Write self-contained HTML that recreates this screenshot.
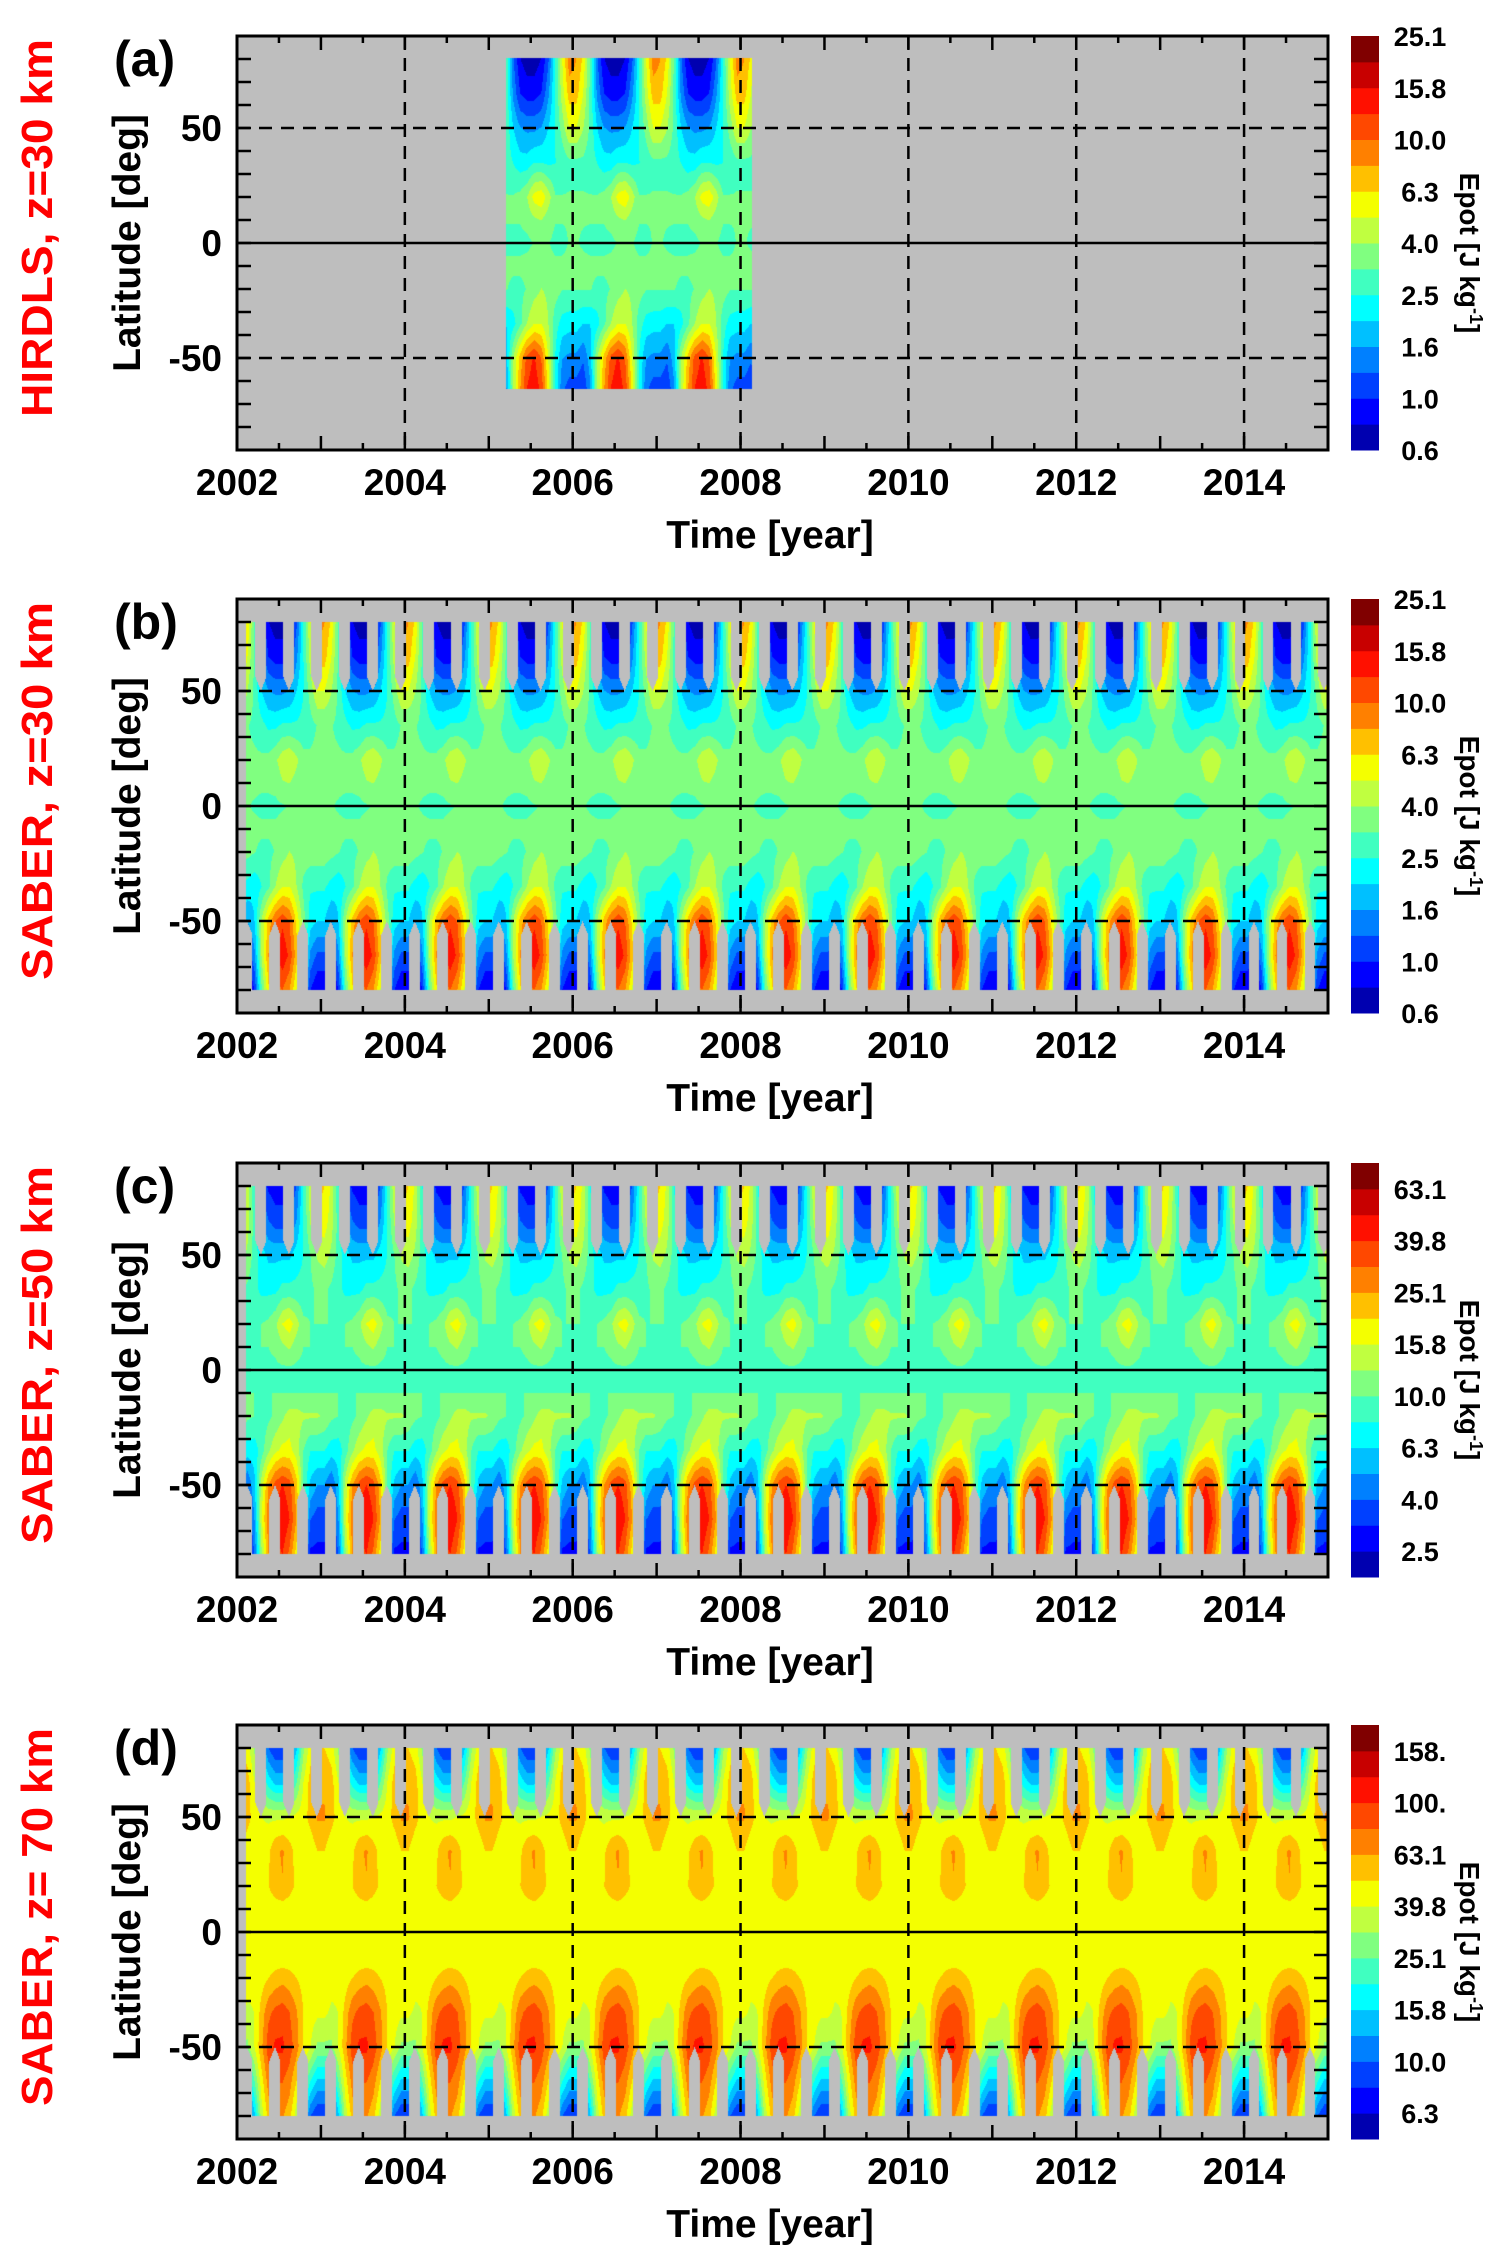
<!DOCTYPE html>
<html><head><meta charset="utf-8">
<style>
html,body{margin:0;padding:0;background:#fff;}
#wrap{position:relative;width:1500px;height:2267px;overflow:hidden;background:#fff;}
canvas{position:absolute;}
svg{position:absolute;left:0;top:0;}
text{font-family:"Liberation Sans",sans-serif;font-weight:bold;}
</style></head>
<body>
<div id="wrap">
<canvas id="cv0"></canvas>
<canvas id="cv1"></canvas>
<canvas id="cv2"></canvas>
<canvas id="cv3"></canvas>
<svg id="ov" width="1500" height="2267"></svg>
</div>
<script>
// ---- data ----
const months = [0,1,2,3,4,5,6,7,8,9,10,11];
const lats = [80,65,50,35,20,10,0,-10,-20,-35,-50,-65,-80];
const xTickYears = [2002,2004,2006,2008,2010,2012,2014];
const yTickLats = [50,0,-50];
const panelLetters = ["(a)","(b)","(c)","(d)"];
const panelTitles = ["HIRDLS, z=30 km","SABER, z=30 km","SABER, z=50 km","SABER, z= 70 km"];
const cbarLabelsA = ["0.6","1.0","1.6","2.5","4.0","6.3","10.0","15.8","25.1"];
const cbarLabelsC = ["2.5","4.0","6.3","10.0","15.8","25.1","39.8","63.1"];
const cbarLabelsD = ["6.3","10.0","15.8","25.1","39.8","63.1","100.","158."];
const logMins = [-0.2,-0.2,0.3,0.7];
const levelColors = ["#0000b0","#0000ff","#0040ff","#0080ff","#00c0ff","#00ffff","#40ffc0","#80ff80","#c0ff40","#f4ff00","#ffc000","#ff8000","#ff4800","#ff1000","#c80000","#800000"];
// HIRDLS coverage
const hirdlsStart = 2005.2, hirdlsEnd = 2008.14, hirdlsLatMax = 80.5, hirdlsLatMin = -63.5;
// SABER coverage and yaw cycle
const saberStart = 2002.107, saberEnd = 2015.0, saberLatMax = 80;
const yawPeriod = 1/3, yawGap = 0.13, northGapPhase = 2002.22, southGapPhase = 2002.387;

const valuesA = [
 [8,6,3,1.3,0.8,0.7,0.7,0.8,1.2,2.5,5,9],
 [7,5,3,1.5,1.0,0.9,0.9,1.0,1.5,2.5,4.5,7],
 [5,4,3,2,1.6,1.5,1.5,1.6,2,2.5,3.5,5],
 [3,3,2.8,2.5,2.2,2.2,2.5,2.5,2.4,2.5,2.7,3],
 [3.2,3.2,3.2,3.2,3.4,4,5.5,6,4.5,3.2,3.2,3.2],
 [3.2,3.2,3.2,3.2,3.2,3.4,3.8,4,3.5,3.2,3.2,3.2],
 [3.2,3.1,3,3,3,3,3.2,3.2,3.2,3,3,3.2],
 [3.3,3.3,3.3,3.3,3.3,3.4,3.6,3.6,3.4,3.3,3.3,3.3],
 [3.2,3.2,3.2,3,3,3.2,3.6,4,3.8,3.5,3.2,3.2],
 [2.2,2,2,2.3,3,4,5,5,4,2.8,2.3,2.2],
 [1.5,1.3,1.8,4,7,11,13,10,5,2.5,1.6,1.5],
 [1.1,1,1.5,4,8,13,15,12,6,2.5,1.3,1.1],
 [1,1,1.5,4,8,13,15,12,6,2.5,1.3,1]
];
const valuesB = [
 [8,6,3,1.2,0.8,0.7,0.7,0.8,1.2,2.5,5,9],
 [7,5,3,1.5,1.0,0.9,0.9,1.0,1.5,2.5,4.5,7],
 [5,4,3,2,1.6,1.5,1.5,1.6,2,2.5,3.5,5],
 [3.2,3.2,3,2.7,2.4,2.4,2.6,2.6,2.6,2.7,2.9,3.2],
 [3.4,3.3,3.3,3.3,3.4,3.8,4.6,5,4.2,3.4,3.3,3.4],
 [3.4,3.3,3.3,3.3,3.3,3.4,3.9,4,3.6,3.3,3.3,3.4],
 [3.3,3.2,3.1,3,3,3,3.1,3.2,3.2,3.2,3.2,3.3],
 [3.4,3.3,3.3,3.3,3.3,3.3,3.4,3.4,3.4,3.4,3.4,3.4],
 [3.6,3.4,3.2,3,3,3.2,3.6,4,3.8,3.6,3.6,3.6],
 [2.6,2.3,2.1,2.5,3,4,5,5,4,3,2.6,2.6],
 [2,1.6,2,4,7,10,12,10,6,3.5,2.2,2],
 [1.2,1,1.5,4,8,12,15,12,7,3,1.5,1.2],
 [0.8,0.7,1,3,6,9,10,8,5,2,1,0.8]
];
const valuesC = [
 [20,15,8,4,3,2.8,2.8,3,4,8,15,22],
 [18,14,9,5,4,3.5,3.5,4,5,8,13,18],
 [14,12,9,7,6,6,6,6,7,8,10,13],
 [10.5,9.5,8.5,7.5,7.5,7.5,8.5,8.5,8.5,8.5,9.5,10.5],
 [10,10,10,10,10.5,12,16,18,14,10.5,10,10],
 [10,10,10,10,10,10.5,12,13,11,10,10,10],
 [9.5,9.5,9.5,9.5,9.5,9.5,9.5,9.5,9.5,9.5,9.5,9.5],
 [10,10,10,10,10,10,10,10,10,10,10,10],
 [12,10.5,10,9,9.5,10.5,12,14,14,13,13,13],
 [8,7,7,9,12,15,17,17,14,10,8,8],
 [5,4,6,14,25,35,40,35,22,10,6,5],
 [3.5,3,5,15,30,45,50,40,25,9,4,3.5],
 [3,2.8,4,12,25,35,40,30,18,6,3,3]
];
const valuesD = [
 [50,45,30,15,10,8,8,10,15,30,45,55],
 [60,55,40,25,18,15,15,18,25,40,55,60],
 [65,55,45,40,38,38,38,40,42,45,55,65],
 [50,42,42,44,48,60,65,55,46,42,42,50],
 [46,42,42,44,50,58,62,55,48,44,42,46],
 [42,41,41,41,42,44,45,44,42,41,41,42],
 [41,40,40,40,41,41,41,41,41,40,40,41],
 [42,41,41,41,41,42,42,42,41,41,41,42],
 [50,44,42,45,50,55,58,55,50,46,50,50],
 [42,38,40,55,75,85,90,80,65,50,45,42],
 [30,30,40,60,90,105,105,90,70,50,40,30],
 [15,15,25,45,70,80,80,70,50,30,20,15],
 [8,8,15,35,55,65,65,55,35,18,10,8]
];
const panelValues = [valuesA, valuesB, valuesC, valuesD];

// ---- layout ----
const X0 = 237, X1 = 1328, T0 = 2002, T1 = 2015;
const panelTops = [36, 599, 1163, 1725];
const PH = 414;
const CBX = 1351, CBW = 28;
const xScale = t => X0 + (t - T0) / (T1 - T0) * (X1 - X0);
const yScale = (lat, top) => top + (90 - lat) / 180 * PH;

function sample(vals, t, lat) {
  let f = (t - Math.floor(t)) * 12 - 0.5;
  let m0 = Math.floor(f), w = f - m0;
  const ma = ((m0 % 12) + 12) % 12, mb = (ma + 1) % 12;
  let li = 0;
  while (li < lats.length - 2 && lat < lats[li + 1]) li++;
  let lw = (lats[li] - lat) / (lats[li] - lats[li + 1]);
  lw = Math.max(0, Math.min(1, lw));
  const g = (r, m) => Math.log10(vals[r][m]);
  const a = g(li, ma) * (1 - w) + g(li, mb) * w;
  const b = g(li + 1, ma) * (1 - w) + g(li + 1, mb) * w;
  return a * (1 - lw) + b * lw;
}
function inYawGap(t, lat, phase) {
  if (lat <= 50) return false;
  const d = (((t - phase) % yawPeriod) + yawPeriod) % yawPeriod;
  const hw = yawGap * Math.min(1, (lat - 50) / 6);
  return Math.abs(d - yawGap / 2) < hw / 2;
}
function covered(p, t, lat) {
  if (p === 0) return t >= hirdlsStart && t <= hirdlsEnd && lat <= hirdlsLatMax && lat >= hirdlsLatMin;
  if (t < saberStart || t > saberEnd || Math.abs(lat) > saberLatMax) return false;
  if (inYawGap(t, lat, northGapPhase)) return false;
  if (inYawGap(t, -lat, southGapPhase)) return false;
  return true;
}
function hexRgb(h){return [parseInt(h.substr(1,2),16),parseInt(h.substr(3,2),16),parseInt(h.substr(5,2),16)];}
const rgbLevels = levelColors.map(hexRgb);

for (let p = 0; p < 4; p++) {
  const cv = document.getElementById('cv' + p);
  const W = X1 - X0, top = panelTops[p];
  cv.width = W; cv.height = PH;
  cv.style.left = X0 + 'px'; cv.style.top = top + 'px';
  const ctx = cv.getContext('2d');
  const img = ctx.createImageData(W, PH);
  for (let y = 0; y < PH; y++) {
    const lat = 90 - (y + 0.5) / PH * 180;
    for (let x = 0; x < W; x++) {
      const t = T0 + (x + 0.5) / W * (T1 - T0);
      let c = [190,190,190];
      if (covered(p, t, lat)) {
        const lv = sample(panelValues[p], t, lat);
        let idx = Math.floor((lv - logMins[p]) / 0.1);
        idx = Math.max(0, Math.min(15, idx));
        c = rgbLevels[idx];
      }
      const k = (y * W + x) * 4;
      img.data[k] = c[0]; img.data[k+1] = c[1]; img.data[k+2] = c[2]; img.data[k+3] = 255;
    }
  }
  ctx.putImageData(img, 0, 0);
}

// ---- overlay ----
const NS = 'http://www.w3.org/2000/svg';
const ov = document.getElementById('ov');
function mk(tag, attrs, parent, txt) {
  const e = document.createElementNS(NS, tag);
  for (const k in attrs) e.setAttribute(k, attrs[k]);
  if (txt !== undefined) e.textContent = txt;
  (parent || ov).appendChild(e);
  return e;
}
const cbarSets = [cbarLabelsA, cbarLabelsA, cbarLabelsC, cbarLabelsD];
const cbarOffsets = [0, 0, 1, 1];
for (let p = 0; p < 4; p++) {
  const top = panelTops[p], bot = top + PH;
  const g = mk('g', {});
  
  
  for (let yr = 2004; yr <= 2014; yr += 2) {
    const l = mk('line', {x1: xScale(yr), x2: xScale(yr), y1: top, y2: bot, stroke: '#000', 'stroke-width': 2.5, 'stroke-dasharray': '13 9'}, g);
    
    
  }
  [50, -50].forEach(la => {
    const l = mk('line', {x1: X0, x2: X1, y1: yScale(la, top), y2: yScale(la, top), stroke: '#000', 'stroke-width': 2.5, 'stroke-dasharray': '13 9'}, g);
    
    
  });
  const eq = mk('line', {x1: X0, x2: X1, y1: yScale(0, top), y2: yScale(0, top), stroke: '#000', 'stroke-width': 2.5}, g);
  
  
  for (let yr = 2002; yr <= 2015; yr += 0.5) {
    const len = (yr % 1 === 0) ? 14 : 7;
    const x = xScale(yr);
    mk('line', {x1: x, x2: x, y1: top, y2: top + len, stroke: '#000', 'stroke-width': 2.5}, g);
    mk('line', {x1: x, x2: x, y1: bot, y2: bot - len, stroke: '#000', 'stroke-width': 2.5}, g);
  }
  for (let la = -80; la <= 80; la += 10) {
    const y = yScale(la, top);
    mk('line', {x1: X0, x2: X0 + 14, y1: y, y2: y, stroke: '#000', 'stroke-width': 2.5}, g);
    mk('line', {x1: X1, x2: X1 - 14, y1: y, y2: y, stroke: '#000', 'stroke-width': 2.5}, g);
  }
  const fr = mk('rect', {x: X0, y: top, width: X1 - X0, height: PH, fill: 'none', stroke: '#000', 'stroke-width': 3}, g);
  
  
  xTickYears.forEach(yr => {
    const t = mk('text', {x: xScale(yr), y: bot + 45, 'font-size': 37, 'text-anchor': 'middle'}, g, String(yr));
    
    
  });
  yTickLats.forEach(la => {
    const t = mk('text', {x: 222, y: yScale(la, top) + 13, 'font-size': 37, 'text-anchor': 'end'}, g, String(la));
    
    
  });
  const xt = mk('text', {x: 770, y: bot + 98, 'font-size': 39, 'text-anchor': 'middle'}, g, 'Time [year]');
  
  
  const yt = mk('text', {x: 0, y: 0, 'font-size': 39, 'text-anchor': 'middle', transform: `translate(140,${top + PH/2}) rotate(-90)`}, g, 'Latitude [deg]');
  
  
  const rt = mk('text', {x: 0, y: 0, 'font-size': 44, fill: '#ff0000', 'text-anchor': 'middle', textLength: 378, lengthAdjust: 'spacingAndGlyphs', transform: `translate(52,${top + PH/2 - 15}) rotate(-90)`}, g, panelTitles[p]);
  
  
  const lt = mk('text', {x: 114, y: top + 40, 'font-size': 50}, g, panelLetters[p]);
  
  
  const lh = PH / 16;
  levelColors.forEach((c, i) => {
    const r = mk('rect', {x: CBX, y: bot - (i + 1) * lh, width: CBW, height: lh + 0.5, fill: c}, g);
    
    
  });
  cbarSets[p].forEach((s, i) => {
    const b = cbarOffsets[p] + i * 2;
    const t = mk('text', {x: 1420, y: bot - b * lh + 10, 'font-size': 27, 'text-anchor': 'middle'}, g, s);
    
    
  });
  const ct = mk('text', {x: 0, y: 0, 'font-size': 28, 'text-anchor': 'middle', transform: `translate(1460,${top + PH/2 + 10}) rotate(90)`}, g);
  
  
  ct.appendChild(document.createTextNode('Epot  [J kg'));
  mk('tspan', {'font-size': 18, dy: -10}, ct, '-1');
  mk('tspan', {'font-size': 28, dy: 10}, ct, ']');
}
</script>
</body></html>
